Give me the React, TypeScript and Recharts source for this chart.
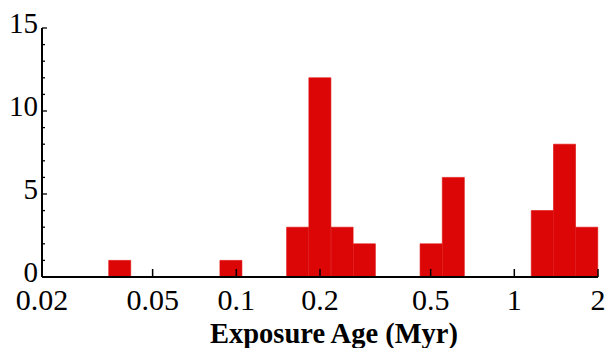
import React from "react";
import { BarChart, Bar, XAxis, YAxis } from "recharts";

// histogram counts, 25 bins equally spaced in log10 between 0.02 and 2 Myr
const binCounts = [0, 0, 0, 1, 0, 0, 0, 0, 1, 0, 0, 3, 12, 3, 2, 0, 0, 2, 6, 0, 0, 0, 4, 8, 3];
const xRange = [0.02, 2];
const xTicks = [0.02, 0.05, 0.1, 0.2, 0.5, 1, 2];
const yTicks = [0, 1, 2, 3, 4, 5, 6, 7, 8, 9, 10, 11, 12, 13, 14, 15];
const yLabels = [0, 5, 10, 15];

const logStep = Math.log10(xRange[1] / xRange[0]) / binCounts.length;
const data = binCounts.map((count, i) => ({
    bin: "b" + i,
    mid: xRange[0] * Math.pow(10, logStep * (i + 0.5)),
    count
}));

const FONT = "'Liberation Serif', 'Times New Roman', serif";
const RED = "#dd0606";

const LeftTick = (props: any) => {
    const { x, y, payload } = props;
    const major = yLabels.includes(payload.value);
    return (
        <g>
            <line x1={x} x2={x + (major ? 5 : 3)} y1={y} y2={y} stroke="#000" strokeWidth={1.3} />
            {major && (
                <text x={x - 4} y={y + 5} textAnchor="end" fontSize={29} fontFamily={FONT} fill="#000">
                    {payload.value}
                </text>
            )}
        </g>
    );
};

const RightTick = (props: any) => {
    const { x, y, payload } = props;
    const major = yLabels.includes(payload.value);
    return <line x1={x} x2={x - (major ? 6 : 5)} y1={y} y2={y} stroke="#000" strokeWidth={1.3} />;
};

const BottomTick = (props: any) => {
    const { x, y, payload } = props;
    return (
        <g>
            <line x1={x} x2={x} y1={y} y2={y - 8} stroke="#000" strokeWidth={1.5} />
            <text x={x} y={y + 33} textAnchor="middle" fontSize={30} fontFamily={FONT} fill="#000">
                {payload.value}
            </text>
        </g>
    );
};

const App: React.FC = () => {
    return (
        <div style={{ position: "absolute", left: 0, top: 0, background: "#fff" }}>
            <BarChart
                width={607}
                height={348}
                data={data}
                barCategoryGap={0}
                margin={{ top: 28, right: 9, left: 0, bottom: 0 }}
            >
                <XAxis xAxisId="bins" dataKey="bin" hide height={0} />
                <XAxis
                    xAxisId="top"
                    orientation="top"
                    dataKey="bin"
                    height={0}
                    tick={false}
                    tickLine={false}
                    axisLine={{ stroke: "#000", strokeWidth: 1.5 }}
                />
                <XAxis
                    xAxisId="log"
                    dataKey="mid"
                    type="number"
                    scale="log"
                    domain={xRange}
                    allowDataOverflow
                    ticks={xTicks}
                    interval={0}
                    height={71}
                    tickSize={0}
                    tickMargin={0}
                    tickLine={false}
                    tick={<BottomTick />}
                    axisLine={{ stroke: "#000", strokeWidth: 2 }}
                    label={{
                        content: (p: any) => (
                            <text
                                x={p.viewBox.x + p.viewBox.width / 2 + 14}
                                y={343}
                                textAnchor="middle"
                                fontSize={28.5}
                                fontWeight="bold"
                                fontFamily={FONT}
                                fill="#000"
                            >
                                Exposure Age (Myr)
                            </text>
                        )
                    }}
                />
                <YAxis
                    yAxisId="left"
                    domain={[0, 15]}
                    ticks={yTicks}
                    interval={0}
                    width={42}
                    tickSize={0}
                    tickMargin={0}
                    tickLine={false}
                    tick={<LeftTick />}
                    axisLine={{ stroke: "#000", strokeWidth: 2 }}
                />
                <YAxis
                    yAxisId="right"
                    orientation="right"
                    domain={[0, 15]}
                    ticks={yTicks}
                    interval={0}
                    width={0}
                    tickSize={0}
                    tickMargin={0}
                    tickLine={false}
                    tick={<RightTick />}
                    axisLine={{ stroke: "#000", strokeWidth: 1.5 }}
                />
                <Bar
                    dataKey="count"
                    xAxisId="bins"
                    yAxisId="left"
                    fill={RED}
                    stroke={RED}
                    strokeWidth={0.6}
                    isAnimationActive={false}
                />
            </BarChart>
        </div>
    );
};

export default App;
